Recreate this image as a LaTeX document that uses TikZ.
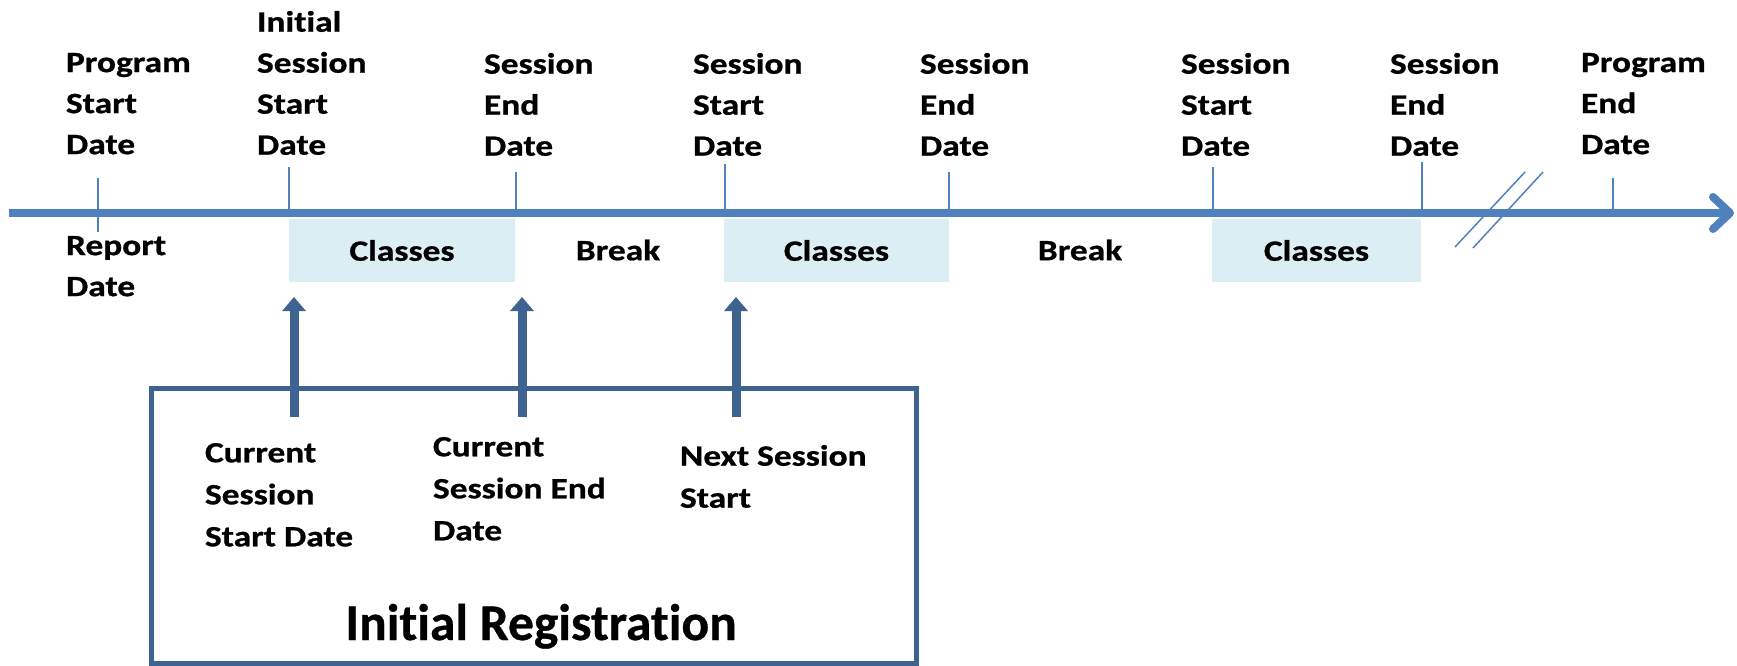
\documentclass[tikz,border=0pt]{standalone}
\usepackage{fontspec}
\setmainfont{Carlito}[Ligatures=NoCommon, BoldFeatures={FakeBold=0.6}]
\newfontfamily\lblfont{Carlito}[Ligatures=NoCommon, FakeStretch=1.2, BoldFeatures={FakeBold=0.8}]
\usetikzlibrary{arrows.meta}
\definecolor{axisblue}{HTML}{4F81BD}
\definecolor{boxblue}{HTML}{3F6391}
\definecolor{classfill}{HTML}{DBEEF4}
\tikzset{
  lbl/.style={anchor=north west, inner sep=0pt, outer sep=0pt, align=left,
    font=\lblfont\bfseries\fontsize{29.5}{41}\selectfont},
  boxlbl/.style={lbl, font=\lblfont\bfseries\fontsize{29.5}{42}\selectfont},
  classbox/.style={fill=classfill, draw=none, anchor=north west, minimum height=63pt,
    inner sep=0pt, outer sep=0pt, font=\lblfont\bfseries\fontsize{29.5}{34}\selectfont},
  breaklbl/.style={inner sep=0pt, font=\lblfont\bfseries\fontsize{29.5}{34}\selectfont},
  axisline/.style={draw=axisblue, line width=8pt,
    -{Straight Barb[length=17pt,width=32pt,round]}},
  tickline/.style={draw=axisblue, line width=2pt},
  breakmark/.style={draw=axisblue, line width=1.5pt},
  uparrow/.style={draw=boxblue, line width=9pt, -{Triangle[length=14pt,width=23pt]}},
  regbox/.style={draw=boxblue, line width=5pt, minimum width=765pt, minimum height=275pt,
    inner sep=0pt, outer sep=0pt},
  title/.style={anchor=base, inner sep=0pt, font=\bfseries\fontsize{51.5}{60}\selectfont}
}
\begin{document}
\begin{tikzpicture}[x=1pt,y=-1pt]
\useasboundingbox (0,0) rectangle (1737,666);

% classes boxes
\node[classbox, minimum width=226pt] (c1) at (289,219) {Classes};
\node[classbox, minimum width=225pt] (c2) at (724,219) {Classes};
\node[classbox, minimum width=209pt] (c3) at (1212,219) {Classes};
\node[breaklbl] (b1) at (618,250) {Break};
\node[breaklbl] (b2) at (1080,250) {Break};

% axis
\coordinate (axs) at (9,213);
\coordinate (axe) at (1734,213);
\draw[axisline] (axs) -- (axe);

% ticks
\foreach \n/\x/\t/\b in {t1/98/178/232, t2/289/167/213, t3/516/172/213, t4/725/164/213,
                         t5/949/172/213, t6/1213/167/213, t7/1422/162/213, t8/1613/178/213}{
  \coordinate (\n a) at (\x,\t);
  \coordinate (\n b) at (\x,\b);
  \draw[tickline] (\n a) -- (\n b);
}

% break marks
\coordinate (m1a) at (1455,247); \coordinate (m1b) at (1525,172);
\coordinate (m2a) at (1473,248); \coordinate (m2b) at (1543,172);
\draw[breakmark] (m1a) -- (m1b);
\draw[breakmark] (m2a) -- (m2b);

% top labels
\node[lbl] (l1) at (66,53) {Program\\Start\\Date};
\node[lbl] (l2) at (257,11) {Initial\\Session\\Start\\Date};
\node[lbl] (l3) at (484,53) {Session\\End\\Date};
\node[lbl] (l4) at (693,53) {Session\\Start\\Date};
\node[lbl] (l5) at (920,53) {Session\\End\\Date};
\node[lbl] (l6) at (1181,53) {Session\\Start\\Date};
\node[lbl] (l7) at (1390,53) {Session\\End\\Date};
\node[lbl] (l8) at (1581,53) {Program\\End\\Date};
\node[lbl] (rep) at (66,236) {Report\\Date};

% registration box
\node[regbox] (reg) at (533.5,525.5) {};
\node[title] (regt) at (541,640) {Initial Registration};
\node[boxlbl] (r1) at (205,443) {Current\\Session\\Start Date};
\node[boxlbl] (r2) at (433,437) {Current\\Session End\\Date};
\node[boxlbl] (r3) at (680,445) {Next Session\\Start};

% arrows
\coordinate (a1s) at (294,417); \coordinate (a1e) at (294,297);
\coordinate (a2s) at (522,417); \coordinate (a2e) at (522,297);
\coordinate (a3s) at (736,417); \coordinate (a3e) at (736,297);
\draw[uparrow] (a1s) -- (a1e);
\draw[uparrow] (a2s) -- (a2e);
\draw[uparrow] (a3s) -- (a3e);
\end{tikzpicture}
\end{document}
